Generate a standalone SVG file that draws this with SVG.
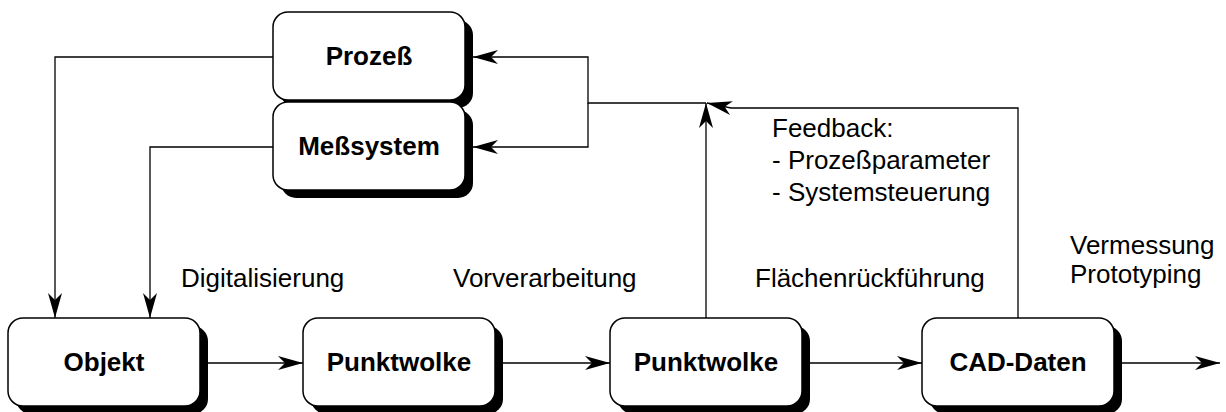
<svg xmlns="http://www.w3.org/2000/svg" width="1226" height="412" viewBox="0 0 1226 412">
<style>
.box{fill:#fff;stroke:#000;stroke-width:1.5}
.shadow{fill:#000}
.nt{font-family:"Liberation Sans",Arial,sans-serif;font-weight:bold;font-size:26px;text-anchor:middle;fill:#000}
.lbl{font-family:"Liberation Sans",Arial,sans-serif;font-size:26px;fill:#000}
.ln{fill:none;stroke:#000;stroke-width:1.3}
</style>
<defs>
<marker id="ah" markerUnits="userSpaceOnUse" markerWidth="27" markerHeight="15" refX="25" refY="7" orient="auto" viewBox="0 0 27 15">
<path d="M0,0 L25,7 L0,14 L7,7 Z" fill="#000"/>
</marker>
</defs>
<rect width="1226" height="412" fill="#fff"/>
<g id="connectors">
<path class="ln" d="M273,57 H55 V318" marker-end="url(#ah)"/>
<path class="ln" d="M273,147 H150 V318" marker-end="url(#ah)"/>
<path class="ln" d="M706,103 H588 V57 H473" marker-end="url(#ah)"/>
<path class="ln" d="M588,103 V147 H473" marker-end="url(#ah)"/>
<path class="ln" d="M706,318 V103" marker-end="url(#ah)"/>
<path class="ln" d="M1018,318 V108 H731 L707,103" marker-end="url(#ah)"/>
<path class="ln" d="M208,363 H303" marker-end="url(#ah)"/>
<path class="ln" d="M503,363 H610" marker-end="url(#ah)"/>
<path class="ln" d="M810,363 H922" marker-end="url(#ah)"/>
<path class="ln" d="M1121,363 H1220" marker-end="url(#ah)"/>
</g>
<g id="prozess">
<rect class="shadow" x="281" y="20" width="192" height="88" rx="15"/>
<rect class="box" x="273" y="12" width="192" height="88" rx="15"/>
<text class="nt" x="369" y="65">Prozeß</text>
</g>
<g id="messsystem">
<rect class="shadow" x="281" y="110" width="192" height="88" rx="15"/>
<rect class="box" x="273" y="102" width="192" height="88" rx="15"/>
<text class="nt" x="369" y="155">Meßsystem</text>
</g>
<g id="objekt">
<rect class="shadow" x="16" y="326" width="192" height="88" rx="15"/>
<rect class="box" x="8" y="318" width="192" height="88" rx="15"/>
<text class="nt" x="104" y="371">Objekt</text>
</g>
<g id="punktwolke1">
<rect class="shadow" x="311" y="326" width="192" height="88" rx="15"/>
<rect class="box" x="303" y="318" width="192" height="88" rx="15"/>
<text class="nt" x="399" y="371">Punktwolke</text>
</g>
<g id="punktwolke2">
<rect class="shadow" x="618" y="326" width="192" height="88" rx="15"/>
<rect class="box" x="610" y="318" width="192" height="88" rx="15"/>
<text class="nt" x="706" y="371">Punktwolke</text>
</g>
<g id="caddaten">
<rect class="shadow" x="930" y="326" width="192" height="88" rx="15"/>
<rect class="box" x="922" y="318" width="192" height="88" rx="15"/>
<text class="nt" x="1018" y="371">CAD-Daten</text>
</g>
<g id="labels">
<text class="lbl" x="181" y="287">Digitalisierung</text>
<text class="lbl" x="453" y="287">Vorverarbeitung</text>
<text class="lbl" x="755" y="287">Flächenrückführung</text>
<text class="lbl" x="1070" y="254">Vermessung</text>
<text class="lbl" x="1070" y="283">Prototyping</text>
<text class="lbl" x="772" y="137">Feedback:</text>
<text class="lbl" x="772" y="169">- Prozeßparameter</text>
<text class="lbl" x="772" y="201">- Systemsteuerung</text>
</g>
</svg>
